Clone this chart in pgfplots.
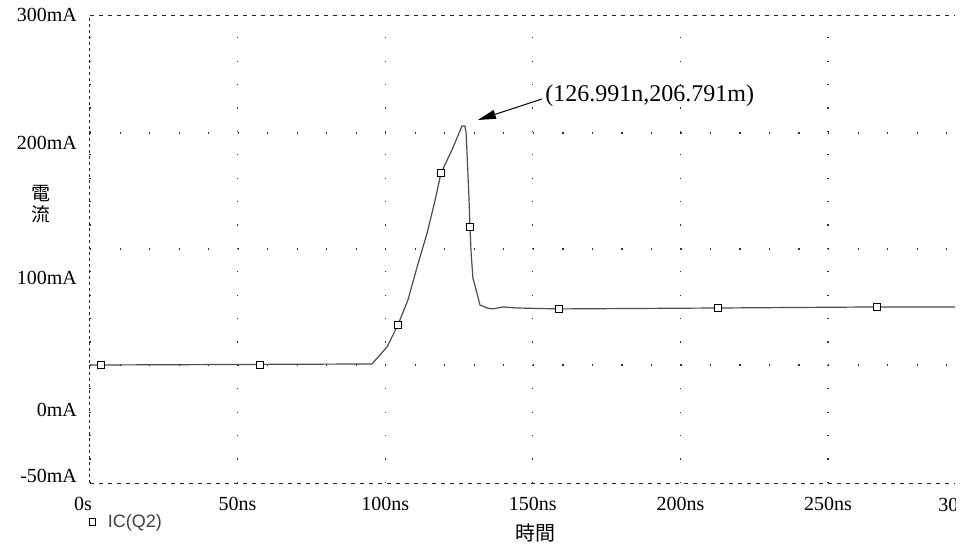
\documentclass[border=0pt]{standalone}
\usepackage{fontspec}
\setmainfont{Liberation Serif}
\newfontfamily\cjk{Noto Sans CJK TC}
\newfontfamily\legendfont{Liberation Sans}
\usepackage{pgfplots}
\pgfplotsset{compat=1.18}
\usetikzlibrary{arrows.meta}

\begin{document}
\begin{tikzpicture}
\begin{axis}[
  at={(0,0)}, anchor=south west,
  scale only axis, width=432.5pt, height=234pt,
  xmin=0, xmax=293, ymin=-55.4, ymax=300,
  axis y line*=left,
  xtick={0,50,...,250},
  xticklabels={{\kern-3.5pt 0s\kern3.5pt},50ns,100ns,150ns,200ns,250ns},
  ytick={-50,0,100,200,300},
  yticklabels={-50mA,0mA,100mA,\raisebox{3.5pt}{200mA},300mA},
  extra y ticks={34.2,122.3,210.4},
  extra y tick labels={},
  extra y tick style={grid=major},
  major tick length=0pt,
  xmajorgrids,
  x grid style={black!80, line width=0.6pt, dash pattern=on 0.6pt off 11.1pt},
  y grid style={black!80, line width=0.6pt, dash pattern=on 0.6pt off 14.16pt},
  separate axis lines,
  axis line style={black!85, line width=0.5pt},
  every outer x axis line/.append style={dash pattern=on 2pt off 2.5pt},
  y axis line style={dash pattern=on 1.5pt off 1.5pt},
  tick label style={font=\fontsize{10}{12}\selectfont},
  yticklabel style={xshift=-3pt},
  xticklabel style={yshift=-3.5pt},
  xlabel={時間},
  xlabel style={at={(axis description cs:0.515,-0.107)}, anchor=center, font=\cjk\fontsize{10}{12}\selectfont},
  ylabel={電\\流},
  ylabel style={rotate=-90, at={(axis description cs:-0.0566,0.596)}, anchor=center, align=center, font=\cjk\fontsize{9.5}{10.5}\selectfont},
  legend style={draw=none, fill=none, inner sep=0pt, column sep=4pt, at={(axis description cs:-0.001,-0.0833)}, anchor=west,
    font=\legendfont\fontsize{9}{10}\selectfont, text=black!75},
  legend image code/.code={\draw[#1] plot coordinates {(0pt,0pt)};},
]
\addplot[black!70, line width=0.6pt, forget plot] table {
0     34.2
95.5  35.0
100.6 47.9
104.3 64.6
107.7 83.6
110.8 108.7
114.2 134.5
116.9 159.5
118.9 180.0
122.6 197.5
126.0 215.7
127.0 215.7
127.4 210.4
127.7 195.2
128.0 180.0
128.4 159.5
128.7 139.0
129.1 119.3
129.7 100.3
130.8 91.2
132.1 79.8
134.5 77.5
136.5 76.8
139.9 78.3
144.6 77.5
158.9 76.8
212.7 77.5
266.6 78.3
293   78.3
};
\addplot[only marks, mark=square*, mark size=1.6pt, draw=black, fill=white, line width=0.5pt] table {
3.7   34.2
57.6  34.2
104.3 64.6
118.9 180.0
128.7 139.0
158.9 76.8
212.7 77.5
266.6 78.3
};
\addlegendentry{IC(Q2)}
\draw[black, line width=0.5pt, -{Triangle[length=9pt,width=4.5pt]}] (axis cs:153.1,236.2) -- (axis cs:131.4,220.3);
\node[anchor=west, inner sep=0pt, font=\fontsize{12}{14}\selectfont] at (axis cs:154.1,238.5) {(126.991n,206.791m)};
\end{axis}
% last tick label, cut off by the edge of the scan as in the original
\begin{scope}
\clip (410pt,-20pt) rectangle (432.5pt,-2pt);
\node[anchor=west, inner sep=0pt, font=\fontsize{10}{12}\selectfont] at (424pt,-11pt) {300ns};
\end{scope}
\path (-45pt,-35.5pt) rectangle (442pt,241.5pt);
\end{tikzpicture}
\end{document}
